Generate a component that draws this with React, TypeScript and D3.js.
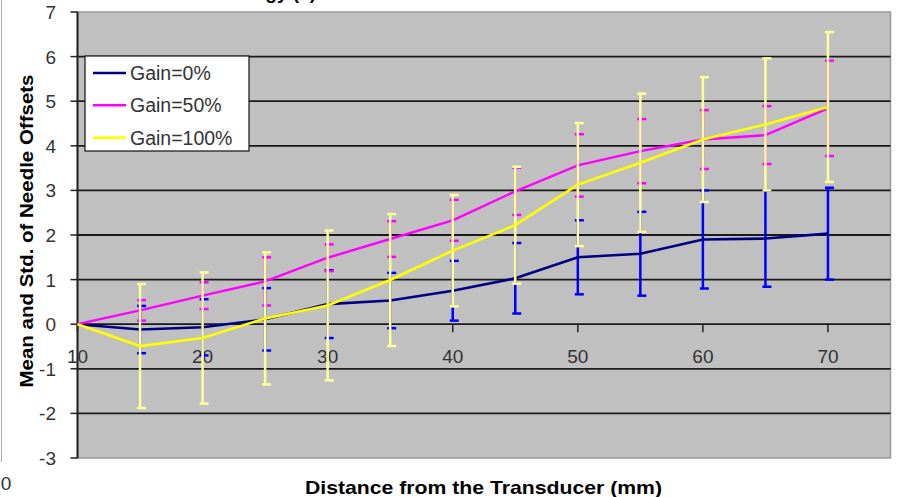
import React from "react";
import * as d3 from "d3";

const distances = [10, 15, 20, 25, 30, 35, 40, 45, 50, 55, 60, 65, 70];
const gain0Mean = [0, -0.12, -0.07, 0.11, 0.45, 0.53, 0.75, 1.03, 1.5, 1.58, 1.9, 1.92, 2.03];
const gain0Std = [0, 0.53, 0.63, 0.7, 0.76, 0.62, 0.67, 0.79, 0.83, 0.94, 1.1, 1.08, 1.03];
const gain50Mean = [0, 0.31, 0.64, 0.96, 1.49, 1.91, 2.33, 2.98, 3.56, 3.88, 4.14, 4.24, 4.84];
const gain50Std = [0, 0.23, 0.3, 0.54, 0.3, 0.4, 0.46, 0.53, 0.7, 0.72, 0.66, 0.65, 1.07];
const gain100Mean = [0, -0.49, -0.31, 0.13, 0.42, 0.99, 1.65, 2.22, 3.13, 3.62, 4.14, 4.48, 4.87];
const gain100Std = [0, 1.39, 1.47, 1.48, 1.68, 1.48, 1.25, 1.31, 1.38, 1.55, 1.4, 1.48, 1.68];

const xTicks = [10, 20, 30, 40, 50, 60, 70];
const yTicks = [-3, -2, -1, 0, 1, 2, 3, 4, 5, 6, 7];
const seriesNames = ["Gain=0%", "Gain=50%", "Gain=100%"];

const FONT = "'Liberation Sans', Arial, sans-serif";

export default function App() {
  const x = d3.scaleLinear().domain([10, 75]).range([77.5, 890.5]);
  const y = d3.scaleLinear().domain([-3, 7]).range([458, 12]);

  const series = [
    { name: seriesNames[0], mean: gain0Mean, std: gain0Std, line: "#000080", bar: "#0000FF", lw: 2.6 },
    { name: seriesNames[1], mean: gain50Mean, std: gain50Std, line: "#FF00FF", bar: "#FF00FF", lw: 2.4 },
    { name: seriesNames[2], mean: gain100Mean, std: gain100Std, line: "#FFFF00", bar: "#FFFF99", lw: 2.6 },
  ];

  const lineGen = (m: number[]) =>
    d3.line<number>().x((_, i) => x(distances[i])).y((v) => y(v))(m) as string;

  const errorBars = (s: typeof series[0], key: string) =>
    s.std.map((sd, i) => {
      if (sd <= 0) return null;
      const cx = x(distances[i]);
      const top = y(s.mean[i] + sd);
      const bot = y(s.mean[i] - sd);
      return (
        <g key={key + i} stroke={s.bar} strokeWidth={2.5} fill="none">
          <line x1={cx} x2={cx} y1={top} y2={bot} />
          <line x1={cx - 3} x2={cx + 6} y1={top} y2={top} />
          <line x1={cx - 3} x2={cx + 6} y1={bot} y2={bot} />
        </g>
      );
    });

  const [x0, x1] = x.range();
  const [yb, yt] = y.range();

  return (
    <svg width={901} height={497} style={{ position: "absolute", left: 0, top: 0, background: "#fff" }} fontFamily={FONT}>
      {/* partial title clipped at top */}
      <text x={316} y={-1} textAnchor="end" fontSize={19} fontWeight="bold" fill="#000">Strategy (c)</text>
      {/* left figure border */}
      <line x1={1.5} x2={1.5} y1={0} y2={462} stroke="#aaa" strokeWidth={1} />
      <text x={6} y={490} textAnchor="middle" fontSize={19} fill="#333">0</text>

      {/* plot area */}
      <rect x={x0} y={yt} width={x1 - x0} height={yb - yt} fill="#C0C0C0" stroke="#999" strokeWidth={1.5} />
      {yTicks.filter((t) => t > -3 && t < 7).map((t) => (
        <line key={"g" + t} x1={x0} x2={x1} y1={y(t)} y2={y(t)} stroke="#1a1a1a" strokeWidth={1.8} />
      ))}

      {/* y axis */}
      <line x1={x0} x2={x0} y1={yt} y2={yb} stroke="#222" strokeWidth={2} />
      {yTicks.map((t) => (
        <g key={"yt" + t}>
          <line x1={x0 - 7} x2={x0} y1={y(t)} y2={y(t)} stroke="#222" strokeWidth={1.5} />
          <text x={56} y={y(t) + 7} textAnchor="end" fontSize={19} fill="#333">{t}</text>
        </g>
      ))}

      {/* x axis at y=0 */}
      {xTicks.map((t) => (
        <g key={"xt" + t}>
          <line x1={x(t)} x2={x(t)} y1={y(0)} y2={y(0) + 8} stroke="#222" strokeWidth={1.5} />
          <text x={x(t)} y={363} textAnchor="middle" fontSize={19} fill="#333">{t}</text>
        </g>
      ))}

      {/* error bars for first two series */}
      {errorBars(series[0], "e0")}
      {errorBars(series[1], "e1")}
      {/* lines */}
      <path d={lineGen(series[0].mean)} fill="none" stroke={series[0].line} strokeWidth={series[0].lw} />
      <path d={lineGen(series[1].mean)} fill="none" stroke={series[1].line} strokeWidth={series[1].lw} />
      {errorBars(series[2], "e2")}
      <path d={lineGen(series[2].mean)} fill="none" stroke={series[2].line} strokeWidth={series[2].lw} />

      {/* legend */}
      <rect x={85} y={56} width={164} height={95} fill="#fff" stroke="#111" strokeWidth={1.2} />
      {series.map((s, i) => {
        const ly = 73 + i * 32.3;
        return (
          <g key={"lg" + i}>
            <line x1={93} x2={126} y1={ly} y2={ly} stroke={s.line} strokeWidth={2.6} />
            <text x={130} y={ly + 7} fontSize={19.5} fill="#333">{s.name}</text>
          </g>
        );
      })}

      {/* axis titles */}
      <text x={483.5} y={494} textAnchor="middle" fontSize={19} fontWeight="bold" fill="#000"
        textLength={357} lengthAdjust="spacingAndGlyphs">Distance from the Transducer (mm)</text>
      <text transform="translate(33,231) rotate(-90)" textAnchor="middle" fontSize={19} fontWeight="bold" fill="#000"
        textLength={313} lengthAdjust="spacingAndGlyphs">Mean and Std. of Needle Offsets</text>
    </svg>
  );
}
